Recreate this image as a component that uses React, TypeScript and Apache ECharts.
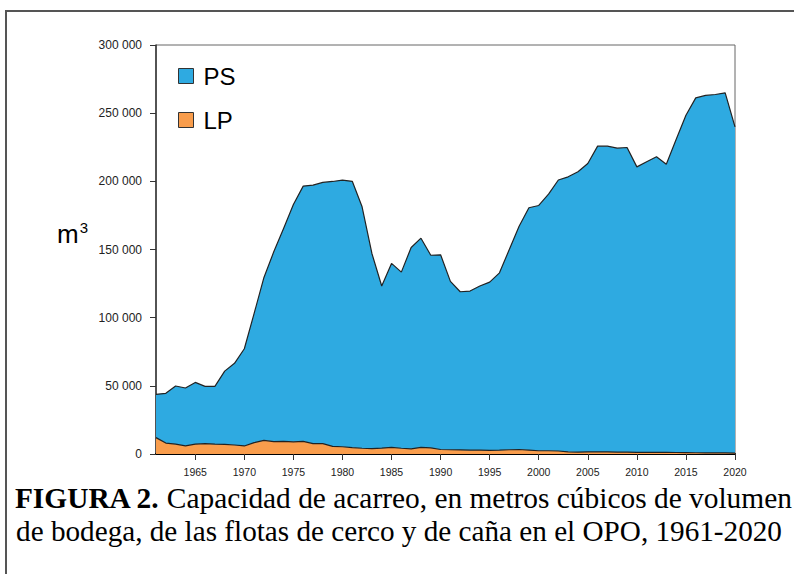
import React, { useEffect, useRef } from "react";
import * as echarts from "echarts";

const years: string[] = [];
for (let y = 1961; y <= 2020; y++) years.push(String(y));

// Purse-seine (PS) capacity, m3 (stacked on top of LP)
const psValues = [
  31800, 36500, 42700, 42400, 45200, 42000, 42400, 53700, 59900, 71300,
  94800, 119500, 139200, 156200, 174100, 187200, 189600, 191600, 194300, 195600,
  195300, 177100, 143200, 118900, 135000, 129200, 147700, 153500, 141300, 142800,
  123500, 116000, 116700, 120300, 123500, 130100, 146900, 163800, 177700, 179900,
  188200, 198800, 201700, 205600, 211600, 224300, 224300, 222900, 223400, 209400,
  213100, 216700, 211400, 229600, 247500, 260300, 262200, 262900, 264100, 239300,
];

// Pole-and-line (LP) capacity, m3
const lpValues = [
  12000, 8000, 7200, 6000, 7300, 7600, 7200, 7100, 6600, 5900,
  8300, 10000, 9100, 9200, 8900, 9300, 7600, 7600, 5600, 5300,
  4700, 4200, 3900, 4300, 4800, 4200, 3800, 4800, 4500, 3300,
  3100, 3000, 2800, 2900, 2600, 2800, 3100, 3300, 2900, 2400,
  2400, 2200, 1600, 1400, 1500, 1500, 1500, 1400, 1400, 1200,
  1200, 1300, 1200, 1100, 1000, 900, 800, 800, 800, 700,
];

const seriesNames = ["PS", "LP"];
const captionBold = "FIGURA 2.";
const captionLine1 = " Capacidad de acarreo, en metros cúbicos de volumen";
const captionLine2 = "de bodega, de las flotas de cerco y de caña en el OPO, 1961-2020";

const SANS = "'Liberation Sans', Arial, sans-serif";
const SERIF = "'Liberation Serif', 'Times New Roman', serif";

export default function App() {
  const ref = useRef<HTMLDivElement>(null);
  useEffect(() => {
    if (!ref.current) return;
    const chart = echarts.init(ref.current, null, { renderer: "svg" });
    const fmt = (v: number) =>
      String(v).replace(/\B(?=(\d{3})+(?!\d))/g, " ");
    chart.setOption({
      animation: false,
      backgroundColor: "#ffffff",
      grid: {
        left: 156,
        right: 59,
        top: 45,
        bottom: 120,
        show: true,
        borderColor: "#666",
        borderWidth: 1,
        backgroundColor: "transparent",
      },
      legend: {
        orient: "vertical",
        left: 178,
        top: 64,
        padding: 0,
        itemGap: 20,
        itemWidth: 15,
        itemHeight: 15,
        icon: "rect",
        textStyle: {
          fontSize: 24,
          lineHeight: 16,
          fontFamily: SANS,
          color: "#000",
          padding: [2, 0, 0, 5],
        },
        data: [
          { name: seriesNames[0], itemStyle: { color: "#2EAAE1", borderColor: "#333", borderWidth: 1 } },
          { name: seriesNames[1], itemStyle: { color: "#F99D4C", borderColor: "#333", borderWidth: 1 } },
        ],
      },
      xAxis: {
        type: "category",
        data: years,
        boundaryGap: false,
        axisLine: { show: true, lineStyle: { color: "#000", width: 2 } },
        axisTick: {
          show: true,
          length: 6,
          interval: (i: number, v: string) => Number(v) % 5 === 0,
          lineStyle: { color: "#333", width: 1 },
        },
        axisLabel: {
          interval: (i: number, v: string) => Number(v) % 5 === 0,
          fontSize: 10.5,
          fontFamily: SANS,
          color: "#222",
          margin: 12,
        },
        splitLine: { show: false },
      },
      yAxis: {
        type: "value",
        min: 0,
        max: 300000,
        interval: 50000,
        axisLine: { show: true, lineStyle: { color: "#333", width: 1.5 } },
        axisTick: { show: true, length: 6, lineStyle: { color: "#333", width: 1 } },
        axisLabel: {
          fontSize: 12,
          fontFamily: SANS,
          color: "#222",
          margin: 14,
          formatter: fmt,
        },
        splitLine: { show: false },
      },
      series: [
        {
          name: seriesNames[1],
          type: "line",
          stack: "cap",
          data: lpValues,
          showSymbol: false,
          symbol: "none",
          color: "#F99D4C",
          lineStyle: { color: "#222", width: 1.2 },
          areaStyle: { color: "#F99D4C", opacity: 1 },
        },
        {
          name: seriesNames[0],
          type: "line",
          stack: "cap",
          data: psValues,
          showSymbol: false,
          symbol: "none",
          color: "#2EAAE1",
          lineStyle: { color: "#222", width: 1.2 },
          areaStyle: { color: "#2EAAE1", opacity: 1 },
        },
      ],
      graphic: [
        {
          type: "rect",
          shape: { x: 6, y: 11, width: 820, height: 600 },
          style: { fill: "none", stroke: "#555", lineWidth: 2 },
          silent: true,
        },
        {
          type: "text",
          left: 57,
          top: 220,
          style: {
            text: "{m|m}{s|3}",
            rich: {
              m: { fontSize: 26, fontFamily: SANS, fill: "#000", verticalAlign: "bottom" },
              s: { fontSize: 15, fontFamily: SANS, fill: "#000", verticalAlign: "top", padding: [0, 0, 12, 1] },
            },
          },
        },
        {
          type: "text",
          x: 403,
          y: 512,
          style: {
            text: `{b|${captionBold}}{r|${captionLine1}}`,
            align: "center",
            verticalAlign: "bottom",
            rich: {
              b: { fontSize: 29.4, fontWeight: "bold", fontFamily: SERIF, fill: "#000" },
              r: { fontSize: 29.4, fontFamily: SERIF, fill: "#000" },
            },
          },
        },
        {
          type: "text",
          x: 399,
          y: 545,
          style: {
            text: captionLine2,
            align: "center",
            verticalAlign: "bottom",
            fontSize: 29.2,
            fontFamily: SERIF,
            fill: "#000",
          },
        },
      ],
    });
    return () => chart.dispose();
  }, []);
  return (
    <div
      ref={ref}
      style={{ position: "absolute", left: 0, top: 0, width: 794, height: 574 }}
    />
  );
}
